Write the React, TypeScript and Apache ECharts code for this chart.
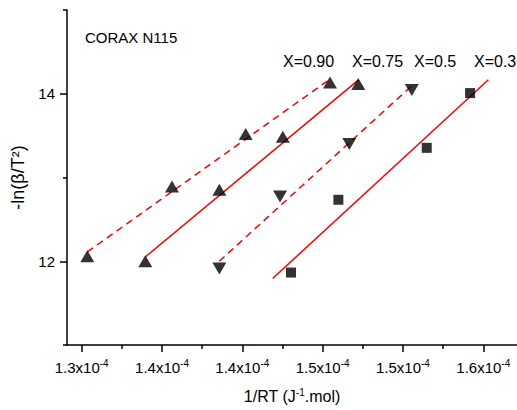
import React, { useEffect, useRef } from 'react';
import * as echarts from 'echarts';

// Axis ticks (x values in units of 1e-4 J^-1.mol)
const xTickValues = [1.30, 1.35, 1.40, 1.45, 1.50, 1.55];
const xTickLabels = ['1.3', '1.4', '1.4', '1.5', '1.5', '1.6'];
const xMinorTicks = [1.325, 1.375, 1.425, 1.475, 1.525];
const yTickValues = [12, 14];
const yMinorTicks = [11, 13, 15];

const seriesNames = ['X=0.90', 'X=0.75', 'X=0.5', 'X=0.3'];

// Measured points
const x90 = [1.3035, 1.3562, 1.4021, 1.4546];
const y90 = [12.06, 12.893, 13.52, 14.135];
const x75 = [1.3396, 1.3857, 1.4252, 1.4722];
const y75 = [12.0, 12.854, 13.488, 14.115];
const x50 = [1.3857, 1.4235, 1.4666, 1.5055];
const y50 = [11.913, 12.774, 13.401, 14.044];
const x30 = [1.4303, 1.4598, 1.5148, 1.5418];
const y30 = [11.865, 12.734, 13.354, 14.008];

// Linear fit endpoints
const fitX90 = [1.3035, 1.4546];
const fitY90 = [12.111, 14.175];
const fitX75 = [1.3396, 1.4722];
const fitY75 = [12.051, 14.163];
const fitX50 = [1.3857, 1.5055];
const fitY50 = [12.0, 14.095];
const fitX30 = [1.4189, 1.5532];
const fitY30 = [11.794, 14.167];

const FONT = '"Liberation Sans", Arial, sans-serif';

const zip = (xs: number[], ys: number[]) => xs.map((x, i) => [x, ys[i]]);

export default function App() {
  const ref = useRef<HTMLDivElement>(null);
  useEffect(() => {
    if (!ref.current) return;
    const chart = echarts.init(ref.current, null, { renderer: 'svg' });
    const xMin = 1.29085;
    const xMax = 1.571;
    const axisColor = '#000';

    const scatter = (name: string, xs: number[], ys: number[], symbol: string, size: any, rotate = 0) => ({
      name,
      type: 'scatter',
      data: zip(xs, ys),
      symbol,
      symbolSize: size,
      symbolRotate: rotate,
      itemStyle: { color: '#000' },
      z: 5,
    });
    const fit = (xs: number[], ys: number[], dashed: boolean) => ({
      type: 'line',
      data: zip(xs, ys),
      showSymbol: false,
      symbol: 'none',
      lineStyle: { color: '#ff0000', width: 1.5, type: dashed ? [7, 5] : 'solid' },
      z: 3,
    });

    chart.setOption({
      animation: false,
      backgroundColor: '#fff',
      grid: { left: 67, top: 10, right: 0, bottom: 65, outerBoundsMode: 'none', containLabel: false },
      xAxis: [
        {
          type: 'value',
          min: xMin,
          max: xMax,
          position: 'bottom',
          axisLine: { show: true, lineStyle: { color: axisColor, width: 1.5 } },
          axisTick: { show: true, inside: false, length: 7, customValues: xTickValues, lineStyle: { color: axisColor, width: 1.5 } },
          axisLabel: {
            customValues: xTickValues,
            margin: 13,
            color: '#000',
            fontFamily: FONT,
            fontSize: 15,
            formatter: (v: number) => {
              let idx = 0;
              xTickValues.forEach((t, i) => { if (Math.abs(t - v) < Math.abs(xTickValues[idx] - v)) idx = i; });
              return `${xTickLabels[idx]}x10{sup|-4}`;
            },
            rich: {
              sup: { fontSize: 10, fontFamily: FONT, color: '#000', verticalAlign: 'top', padding: [0, 0, 8, 0] },
            },
          },
          splitLine: { show: false },
          name: '1/RT (J{sup|-1}.mol)',
          nameLocation: 'middle',
          nameGap: 42,
          nameTextStyle: {
            color: '#000',
            fontFamily: FONT,
            fontSize: 16,
            rich: { sup: { fontSize: 10, fontFamily: FONT, color: '#000', padding: [0, 0, 9, 0] } },
          },
        },
        {
          type: 'value',
          min: xMin,
          max: xMax,
          position: 'bottom',
          axisLine: { show: false },
          axisTick: { show: true, inside: false, length: 4, customValues: xMinorTicks, lineStyle: { color: axisColor, width: 1.5 } },
          axisLabel: { show: false },
          splitLine: { show: false },
        },
      ],
      yAxis: [
        {
          type: 'value',
          min: 11,
          max: 15,
          position: 'left',
          axisLine: { show: true, lineStyle: { color: axisColor, width: 1.5 } },
          axisTick: { show: true, inside: false, length: 7, customValues: yTickValues, lineStyle: { color: axisColor, width: 1.5 } },
          axisLabel: { customValues: yTickValues, margin: 12, color: '#000', fontFamily: FONT, fontSize: 15 },
          splitLine: { show: false },
          name: '-ln(β/T²)',
          nameLocation: 'middle',
          nameGap: 32,
          nameRotate: 90,
          nameTextStyle: { color: '#000', fontFamily: FONT, fontSize: 18 },
        },
        {
          type: 'value',
          min: 11,
          max: 15,
          position: 'left',
          axisLine: { show: false },
          axisTick: { show: true, inside: false, length: 4, customValues: yMinorTicks, lineStyle: { color: axisColor, width: 1.5 } },
          axisLabel: { show: false },
          splitLine: { show: false },
        },
      ],
      series: [
        fit(fitX90, fitY90, true),
        fit(fitX75, fitY75, false),
        fit(fitX50, fitY50, true),
        fit(fitX30, fitY30, false),
        scatter(seriesNames[0], x90, y90, 'triangle', [14, 12]),
        scatter(seriesNames[1], x75, y75, 'triangle', [14, 12]),
        scatter(seriesNames[2], x50, y50, 'triangle', [14, 12], 180),
        scatter(seriesNames[3], x30, y30, 'rect', [10, 10]),
      ],
      graphic: [
        { type: 'text', x: 85, y: 37, style: { text: 'CORAX N115', fill: '#000', fontFamily: FONT, fontSize: 15, align: 'left', verticalAlign: 'middle' } },
        { type: 'text', x: 283, y: 61, style: { text: seriesNames[0], fill: '#000', fontFamily: FONT, fontSize: 16, align: 'left', verticalAlign: 'middle' } },
        { type: 'text', x: 352, y: 61, style: { text: seriesNames[1], fill: '#000', fontFamily: FONT, fontSize: 16, align: 'left', verticalAlign: 'middle' } },
        { type: 'text', x: 414, y: 61, style: { text: seriesNames[2], fill: '#000', fontFamily: FONT, fontSize: 16, align: 'left', verticalAlign: 'middle' } },
        { type: 'text', x: 474, y: 61, style: { text: seriesNames[3], fill: '#000', fontFamily: FONT, fontSize: 16, align: 'left', verticalAlign: 'middle' } },
      ],
    });
    return () => chart.dispose();
  }, []);
  return <div ref={ref} style={{ position: 'fixed', left: 0, top: 0, width: 517, height: 410 }} />;
}
